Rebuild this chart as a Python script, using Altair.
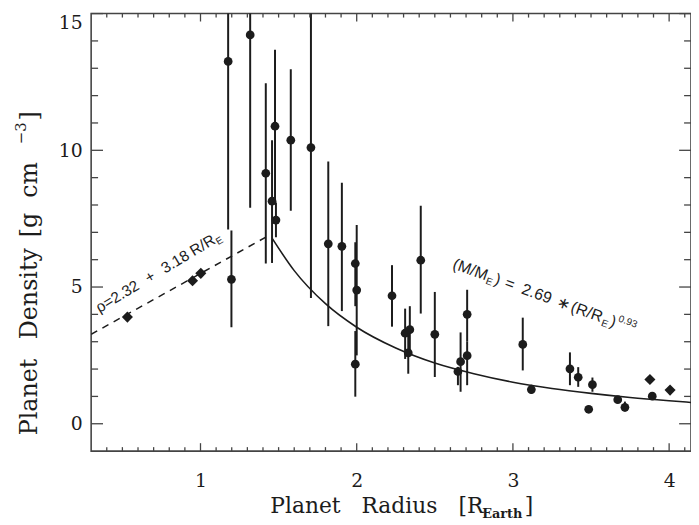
import altair as alt
import pandas as pd

# ---------------- data ----------------
# exoplanets: radius [R_earth], density [g cm^-3], error bar low / high
ex_r = [1.177, 1.198, 1.318, 1.418, 1.458, 1.477, 1.483, 1.578, 1.707, 1.818,
        1.905, 1.991, 2.000, 1.991, 2.226, 2.310, 2.340, 2.330, 2.410, 2.500,
        2.648, 2.665, 2.707, 2.707, 3.063, 3.118, 3.365, 3.418, 3.509, 3.485,
        3.671, 3.717, 3.892]
ex_rho = [13.25, 5.28, 14.22, 9.16, 8.14, 10.88, 7.45, 10.37, 10.10, 6.58,
          6.49, 5.86, 4.89, 2.18, 4.68, 3.31, 3.44, 2.59, 5.98, 3.27,
          1.91, 2.27, 4.00, 2.49, 2.90, 1.25, 2.01, 1.70, 1.43, 0.53,
          0.88, 0.60, 1.01]
ex_lo = [7.10, 3.53, 7.90, 5.86, 5.88, 8.10, 6.82, 7.79, 4.60, 3.57,
         4.12, 4.30, 2.50, 0.99, 3.55, 2.37, 2.60, 1.83, 4.03, 1.71,
         1.41, 1.17, 3.00, 1.41, 1.95, 1.10, 1.41, 1.35, 1.17, 0.53,
         0.88, 0.45, 1.01]
ex_hi = [16.0, 7.07, 16.0, 12.45, 10.37, 13.68, 8.09, 12.96, 16.0, 9.59,
         8.81, 6.64, 7.27, 3.39, 5.80, 4.21, 4.30, 3.30, 7.97, 4.82,
         2.08, 3.34, 4.90, 3.00, 3.88, 1.43, 2.61, 2.07, 1.69, 0.53,
         0.88, 0.81, 1.01]

# solar-system planets (diamonds)
ss_r = [0.532, 0.949, 1.002, 3.877, 4.006]
ss_rho = [3.90, 5.23, 5.50, 1.62, 1.23]

# linear fit  rho = 2.32 + 3.18 R   (dashed)
lin_r = [0.30, 1.42]
lin_rho = [3.27, 6.83]

# power-law fit (solid)
pow_r = [1.46, 1.60, 1.80, 2.00, 2.25, 2.50, 2.75, 3.00, 3.25, 3.50, 3.75, 4.00, 4.14]
pow_rho = [6.77, 5.60, 4.39, 3.53, 2.77, 2.22, 1.83, 1.52, 1.29, 1.11, 0.96, 0.84, 0.78]

x_major = [1, 2, 3, 4]
y_major = [0, 5, 10, 15]
x_minor = [round(0.1 * i, 1) for i in range(4, 42) if i % 10 != 0]
y_minor = [1, 2, 3, 4, 6, 7, 8, 9, 11, 12, 13, 14]

# annotation anchors (data coordinates)
lin_label_at = (0.354, 4.05)
pow_label_at = (2.608, 5.69)

# ---------------- style ----------------
W, H = 606, 442
INK = "#1c1c1c"
FRAME = "#444444"
SERIF = "DejaVu Serif"
SANS = "Liberation Sans, DejaVu Sans"

xs = alt.Scale(domain=[0.3, 4.14], nice=False, zero=False)
ys = alt.Scale(domain=[-1, 15], nice=False, zero=False)
xaxis = alt.Axis(values=x_major, format="d", ticks=False, domain=False, grid=False,
                 labelFont=SERIF, labelFontSize=19, labelColor=INK, labelPadding=21,
                 labelOverlap=False, labelFlush=False, title=None)
yaxis = alt.Axis(values=y_major, format="d", ticks=False, domain=False, grid=False,
                 labelFont=SERIF, labelFontSize=19, labelColor=INK, labelPadding=9,
                 labelOverlap=False, labelFlush=True, title=None)


def X(f):
    return alt.X(f, type="quantitative", scale=xs, axis=xaxis)


def Y(f):
    return alt.Y(f, type="quantitative", scale=ys, axis=yaxis)


ex = pd.DataFrame({"r": ex_r, "rho": ex_rho, "lo": ex_lo, "hi": ex_hi})
ss = pd.DataFrame({"r": ss_r, "rho": ss_rho})
lin = pd.DataFrame({"r": lin_r, "rho": lin_rho})
pw = pd.DataFrame({"r": pow_r, "rho": pow_rho})

err = alt.Chart(ex).mark_rule(color=INK, strokeWidth=2, clip=True).encode(
    x=X("r"), y=Y("lo"), y2="hi")
pts = alt.Chart(ex).mark_point(shape="circle", filled=True, size=78, color=INK,
                               opacity=1).encode(x=X("r"), y=Y("rho"))
dia = alt.Chart(ss).mark_point(shape="diamond", filled=True, size=125, color=INK,
                               opacity=1).encode(x=X("r"), y=Y("rho"))
dash = alt.Chart(lin).mark_line(color=INK, strokeWidth=1.5, strokeDash=[7, 6],
                                clip=True).encode(x=X("r"), y=Y("rho"))
solid = alt.Chart(pw).mark_line(color=INK, strokeWidth=1.6, interpolate="monotone",
                                clip=True).encode(x=X("r"), y=Y("rho"))


def hticks(values, length, top):
    y0, y1 = (0, length) if top else (H, H - length)
    return alt.Chart(pd.DataFrame({"v": values})).mark_rule(
        color=FRAME, strokeWidth=1.3).encode(x=X("v"), y=alt.value(y0), y2=alt.value(y1))


def vticks(values, length, right):
    x0, x1 = (W, W - length) if right else (0, length)
    return alt.Chart(pd.DataFrame({"v": values})).mark_rule(
        color=FRAME, strokeWidth=1.3).encode(y=Y("v"), x=alt.value(x0), x2=alt.value(x1))


ticks = [hticks(x_major, 8, False), hticks(x_minor, 4, False),
         hticks(x_major, 8, True), hticks(x_minor, 4, True),
         vticks(y_major, 12, False), vticks(y_minor, 7, False),
         vticks(y_major, 12, True), vticks(y_minor, 7, True)]


def seg(text, at, angle, dx, dy, size, font=SANS, weight="normal"):
    d = pd.DataFrame({"r": [at[0]], "rho": [at[1]], "t": [text]})
    return alt.Chart(d).mark_text(align="left", baseline="alphabetic", angle=angle,
                                  dx=dx, dy=dy, fontSize=size, font=font,
                                  fontWeight=weight, color=INK).encode(
        x=X("r"), y=Y("rho"), text="t:N")


A1 = 329
lin_label = [
    seg("ρ=2.32", lin_label_at, A1, 0, 0, 15.5),
    seg("+", lin_label_at, A1, 58, 0, 15.5),
    seg("3.18", lin_label_at, A1, 77, 0, 15.5),
    seg("R/R", lin_label_at, A1, 111, 0, 15.5),
    seg("E", lin_label_at, A1, 138, 3, 10),
]
A2 = 20
pow_label = [
    seg("(M/M", pow_label_at, A2, 0, 0, 16),
    seg("E", pow_label_at, A2, 37, 3, 10),
    seg(")", pow_label_at, A2, 45, 0, 16),
    seg("=", pow_label_at, A2, 56, 0, 16),
    seg("2.69", pow_label_at, A2, 74, 0, 16),
    seg("∗", pow_label_at, A2, 112, 0, 16),
    seg("(R/R", pow_label_at, A2, 127, 0, 16),
    seg("E", pow_label_at, A2, 161, 3, 10),
    seg(")", pow_label_at, A2, 169, 0, 16),
    seg("0.93", pow_label_at, A2, 176, -7, 10),
]


def ptext(text, px, py, size, angle=0, font=SERIF, weight="normal"):
    d = pd.DataFrame({"t": [text]})
    return alt.Chart(d).mark_text(align="left", baseline="alphabetic", angle=angle,
                                  fontSize=size, font=font, fontWeight=weight,
                                  color=INK).encode(
        x=alt.value(px), y=alt.value(py), text="t:N")


titles = [
    ptext("Planet", 181, 505, 22),
    ptext("Radius", 273, 505, 22),
    ptext("[R", 371, 505, 22),
    ptext("Earth", 395, 510, 13, weight="bold"),
    ptext("]", 438, 505, 22),
    ptext("Planet", -55, 426, 24, angle=270),
    ptext("Density", -55, 329, 24, angle=270),
    ptext("[g", -55, 226, 24, angle=270),
    ptext("cm", -55, 186, 24, angle=270),
    ptext("−3", -66, 132, 15, angle=270),
    ptext("]", -55, 108, 24, angle=270),
]

chart = alt.layer(err, solid, dash, pts, dia, *ticks, *lin_label, *pow_label, *titles).properties(
    width=W, height=H,
    autosize=alt.AutoSizeParams(type="none"),
    padding={"left": 84, "top": 3, "right": 0, "bottom": 70},
).configure_view(stroke=FRAME, strokeWidth=1.6)

chart.save("out.html", embed_options={"renderer": "svg", "actions": False})
